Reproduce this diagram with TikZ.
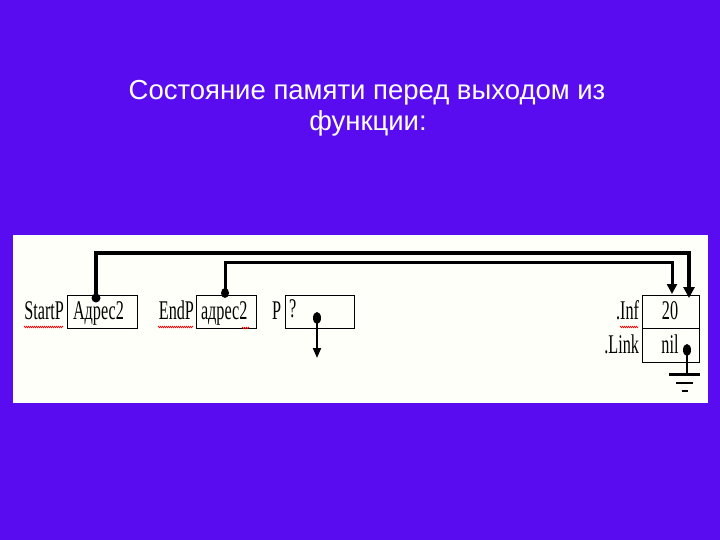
\documentclass[tikz,border=0pt]{standalone}
\usepackage{fontspec}
\setmainfont{Liberation Sans}
\newfontfamily\tnr[FakeStretch=0.6]{Liberation Serif}
\usetikzlibrary{arrows.meta,decorations.pathmorphing}
\definecolor{bgviolet}{RGB}{90,12,240}
\definecolor{panel}{RGB}{255,255,250}
\begin{document}
\begin{tikzpicture}[x=1pt,y=-1pt,
  cell/.style={draw,line width=1pt,inner sep=0,outer sep=0},
  lbl/.style={inner sep=0,outer sep=0,font=\tnr\fontsize{27}{27}\selectfont},
  ttl/.style={inner sep=0,outer sep=0,text=white,font=\fontsize{27.5}{30}\selectfont},
  ptr1/.style={line width=4pt,-{Triangle[length=11pt,width=11pt]}},
  ptr2/.style={line width=3pt,-{Triangle[length=10pt,width=10pt]}},
  ptr3/.style={line width=2pt,-{Triangle[length=10pt,width=8pt]}},
  spell/.style={red,line width=0.6pt,decorate,decoration={zigzag,segment length=2pt,amplitude=0.8pt}}]
\useasboundingbox (0,0) rectangle (720,540);
\fill[bgviolet] (0,0) rectangle (720,540);
\fill[panel] (13,235) rectangle (708,403);
% title
\node[ttl,anchor=base] (title1) at (367,100) {Состояние памяти перед выходом из};
\node[ttl,anchor=base] (title2) at (368,131) {функции:};
% boxes
\node[cell,minimum width=70pt,minimum height=33pt] (sbox) at (102,311.5) {};
\node[cell,minimum width=60pt,minimum height=33pt] (ebox) at (226,311.5) {};
\node[cell,minimum width=69pt,minimum height=33pt] (pbox) at (319.5,311.5) {};
\node[cell,minimum width=57pt,minimum height=33pt] (inf) at (670.5,311.5) {};
\node[cell,minimum width=57pt,minimum height=34pt] (link) at (670.5,345) {};
% texts
\node[lbl,anchor=base east] (lstart) at (64,319) {StartP};
\node[lbl,anchor=base west] (tstart) at (73,319) {Адрес2};
\node[lbl,anchor=base east] (lend) at (194,319) {EndP};
\node[lbl,anchor=base west] (tend) at (201,319) {адрес2};
\node[lbl,anchor=base west] (lp) at (272,319) {P};
\node[lbl,anchor=base west] (tp) at (289,317) {?};
\node[lbl,anchor=base east] (linf) at (639,319) {.Inf};
\node[lbl,anchor=base east] (llink) at (639,353) {.Link};
\node[lbl,anchor=base] (t20) at (670,319) {20};
\node[lbl,anchor=base] (tnil) at (670,353) {nil};
% spell-check underlines
\draw[spell] (24,327) -- (63,327);
\draw[spell] (158,327) -- (193,327);
\draw[spell] (620,327) -- (638,327);
\draw[spell] (242,328) -- (249,328);
% pointer origins
\coordinate (d1) at (96,298);
\coordinate (d2) at (225,293);
\coordinate (d3) at (317,318);
\coordinate (d4) at (687,350);
\coordinate (g) at (687,374);
% connectors
\draw[ptr1] (d1) -- (96,253) -- (689,253) -- (689,298);
\draw[ptr2] (d2) -- (225,262) -- (672,262) -- (672,294);
\draw[ptr3] (d3) -- (317,358);
\draw[line width=2.5pt] (d4) -- (g);
% dots
\fill (d1) ellipse (4.5pt and 4.5pt);
\fill (d2) ellipse (4pt and 5pt);
\fill (d3) ellipse (4pt and 6pt);
\fill (d4) ellipse (4pt and 6pt);
% ground
\draw[line width=3pt] (669,374) -- (700,374);
\draw[line width=2.5pt] (676,383) -- (693,383);
\draw[line width=2.5pt] (681.5,391) -- (688,391);
\end{tikzpicture}
\end{document}
